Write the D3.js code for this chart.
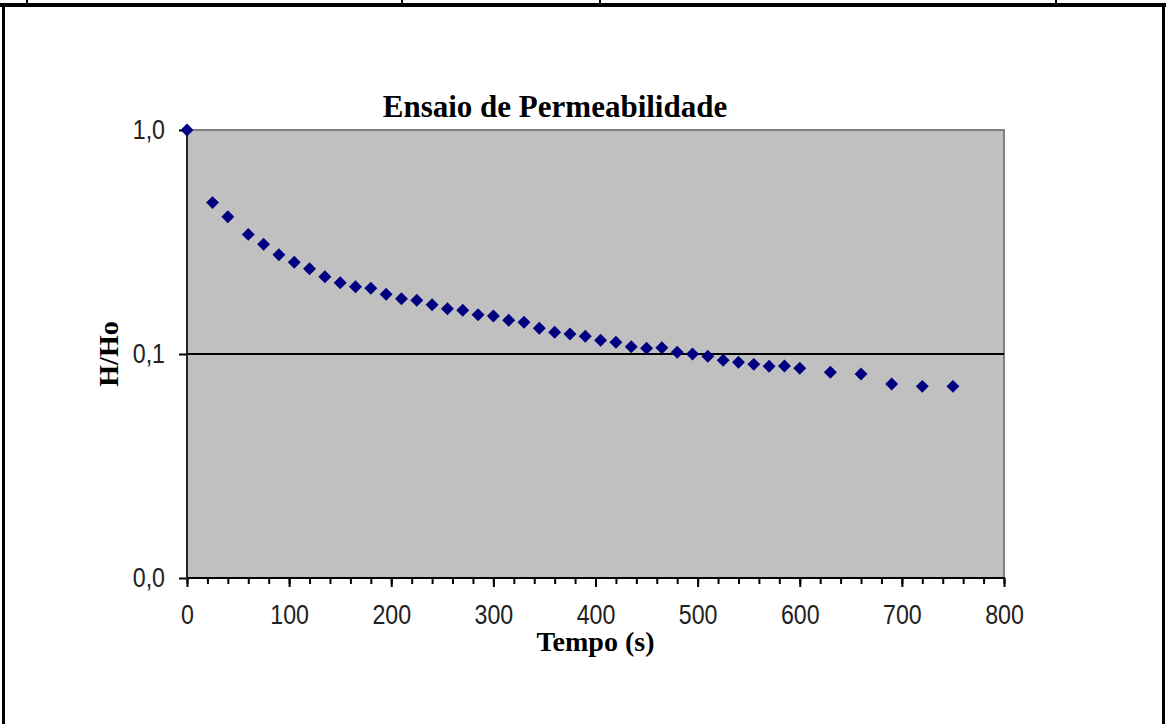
<!DOCTYPE html>
<html>
<head>
<meta charset="utf-8">
<script src="https://cdn.jsdelivr.net/npm/d3@7"></script>
<style>
  html, body { margin: 0; padding: 0; background: #fff; }
  svg { display: block; }
</style>
</head>
<body>
<svg id="chart" width="1166" height="724"></svg>
<script>
// ---- data ----
const tempo = [0, 25, 40, 60, 75, 90, 105, 120, 135, 150, 165, 180, 195, 210, 225, 240, 255, 270, 285,
  300, 315, 330, 345, 360, 375, 390, 405, 420, 435, 450, 465, 480, 495, 510, 525, 540, 555, 570,
  585, 600, 630, 660, 690, 720, 750];
const hHo = [1.0, 0.474, 0.410, 0.342, 0.309, 0.2775, 0.2567, 0.2403, 0.2213, 0.208, 0.1998, 0.1965,
  0.1847, 0.1765, 0.1737, 0.166, 0.1593, 0.1567, 0.1498, 0.1478, 0.1414, 0.1385, 0.1302, 0.125,
  0.1228, 0.120, 0.1151, 0.1128, 0.1078, 0.106, 0.1067, 0.1018, 0.100, 0.0977, 0.0937, 0.0918,
  0.0899, 0.0881, 0.0884, 0.0863, 0.0829, 0.0814, 0.0734, 0.0717, 0.0717];
const xTicks = [0, 100, 200, 300, 400, 500, 600, 700, 800];
const xMinorTicks = d3.range(0, 801, 20);
const yTicks = [1, 0.1, 0.01];
const yTickLabels = ["1,0", "0,1", "0,0"];
const title = "Ensaio de Permeabilidade";
const xTitle = "Tempo (s)";
const yTitle = "H/Ho";

// ---- layout ----
const svg = d3.select("#chart");
const plot = { left: 187, right: 1004, top: 130, bottom: 578 };
const tickFont = "'Liberation Sans', Arial, sans-serif";
const tickSize = 27, squeeze = 0.86;

const x = d3.scaleLinear().domain([0, 800]).range([plot.left, plot.right]);
const y = d3.scaleLog().domain([0.01, 1]).range([plot.bottom, plot.top]);

// page frame
svg.append("rect").attr("x", 0).attr("y", 3).attr("width", 1166).attr("height", 4).attr("fill", "#000");
[27, 402, 600, 1056].forEach(px => {
  svg.append("rect").attr("x", px - 1).attr("y", 0).attr("width", 2).attr("height", 5).attr("fill", "#000");
});
svg.append("rect").attr("x", 2).attr("y", 3).attr("width", 3).attr("height", 721).attr("fill", "#000");
svg.append("rect").attr("x", 1162).attr("y", 3).attr("width", 3).attr("height", 721).attr("fill", "#000");

// plot background
svg.append("rect")
  .attr("x", plot.left).attr("y", plot.top)
  .attr("width", plot.right - plot.left).attr("height", plot.bottom - plot.top)
  .attr("fill", "#C0C0C0");
// gray top/right border
svg.append("path")
  .attr("d", `M${plot.left},${plot.top}H${plot.right}V${plot.bottom}`)
  .attr("fill", "none").attr("stroke", "#808080").attr("stroke-width", 2);

// gridline at 0.1
svg.append("line")
  .attr("x1", plot.left).attr("x2", plot.right)
  .attr("y1", y(0.1)).attr("y2", y(0.1))
  .attr("stroke", "#000").attr("stroke-width", 2);

// x axis
const gx = svg.append("g").attr("transform", `translate(0,${plot.bottom})`);
gx.call(d3.axisBottom(x).tickValues(xMinorTicks).tickSize(6).tickFormat(""))
  .call(g => g.select(".domain").remove())
  .call(g => g.selectAll("line").attr("stroke", "#000").attr("stroke-width", 2));
const gx2 = svg.append("g").attr("transform", `translate(0,${plot.bottom})`);
gx2.call(d3.axisBottom(x).tickValues(xTicks).tickSize(9).tickPadding(18).tickFormat(d3.format("d")))
  .call(g => g.select(".domain").remove())
  .call(g => g.selectAll("line").attr("stroke", "#000").attr("stroke-width", 2))
  .call(g => g.selectAll("text")
    .attr("font-family", tickFont)
    .attr("font-size", tickSize).attr("fill", "#222")
    .attr("transform", `scale(${squeeze},1)`));
svg.append("line")
  .attr("x1", plot.left - 1).attr("x2", plot.right + 1)
  .attr("y1", plot.bottom).attr("y2", plot.bottom)
  .attr("stroke", "#000").attr("stroke-width", 2);

// y axis
const gy = svg.append("g").attr("transform", `translate(${plot.left},0)`);
gy.call(d3.axisLeft(y).tickValues(yTicks).tickSize(8).tickPadding(14)
    .tickFormat((d, i) => yTickLabels[i]))
  .call(g => g.select(".domain").remove())
  .call(g => g.selectAll("line").attr("stroke", "#000").attr("stroke-width", 2))
  .call(g => g.selectAll("text")
    .attr("font-family", tickFont)
    .attr("font-size", tickSize).attr("fill", "#222")
    .attr("x", -22 / squeeze)
    .attr("transform", `scale(${squeeze},1)`));
svg.append("line")
  .attr("x1", plot.left).attr("x2", plot.left)
  .attr("y1", plot.top).attr("y2", plot.bottom + 1)
  .attr("stroke", "#222").attr("stroke-width", 2);

// markers
const diamond = d3.symbol().type(d3.symbolSquare).size(84);
svg.append("g").selectAll("path")
  .data(tempo.map((t, i) => ({ t, v: hHo[i] })))
  .join("path")
  .attr("d", diamond)
  .attr("transform", d => `translate(${x(d.t)},${y(d.v)}) rotate(45)`)
  .attr("fill", "#000080");

// titles
svg.append("text")
  .attr("x", 555).attr("y", 117)
  .attr("text-anchor", "middle")
  .attr("font-family", "'Liberation Serif', 'Times New Roman', serif")
  .attr("font-weight", "bold").attr("font-size", 31)
  .text(title);
svg.append("text")
  .attr("x", (plot.left + plot.right) / 2).attr("y", 651)
  .attr("text-anchor", "middle")
  .attr("font-family", "'Liberation Serif', 'Times New Roman', serif")
  .attr("font-weight", "bold").attr("font-size", 28)
  .text(xTitle);
svg.append("text")
  .attr("transform", `translate(118,${(plot.top + plot.bottom) / 2}) rotate(-90)`)
  .attr("text-anchor", "middle")
  .attr("font-family", "'Liberation Serif', 'Times New Roman', serif")
  .attr("font-weight", "bold").attr("font-size", 28)
  .text(yTitle);
</script>
</body>
</html>
